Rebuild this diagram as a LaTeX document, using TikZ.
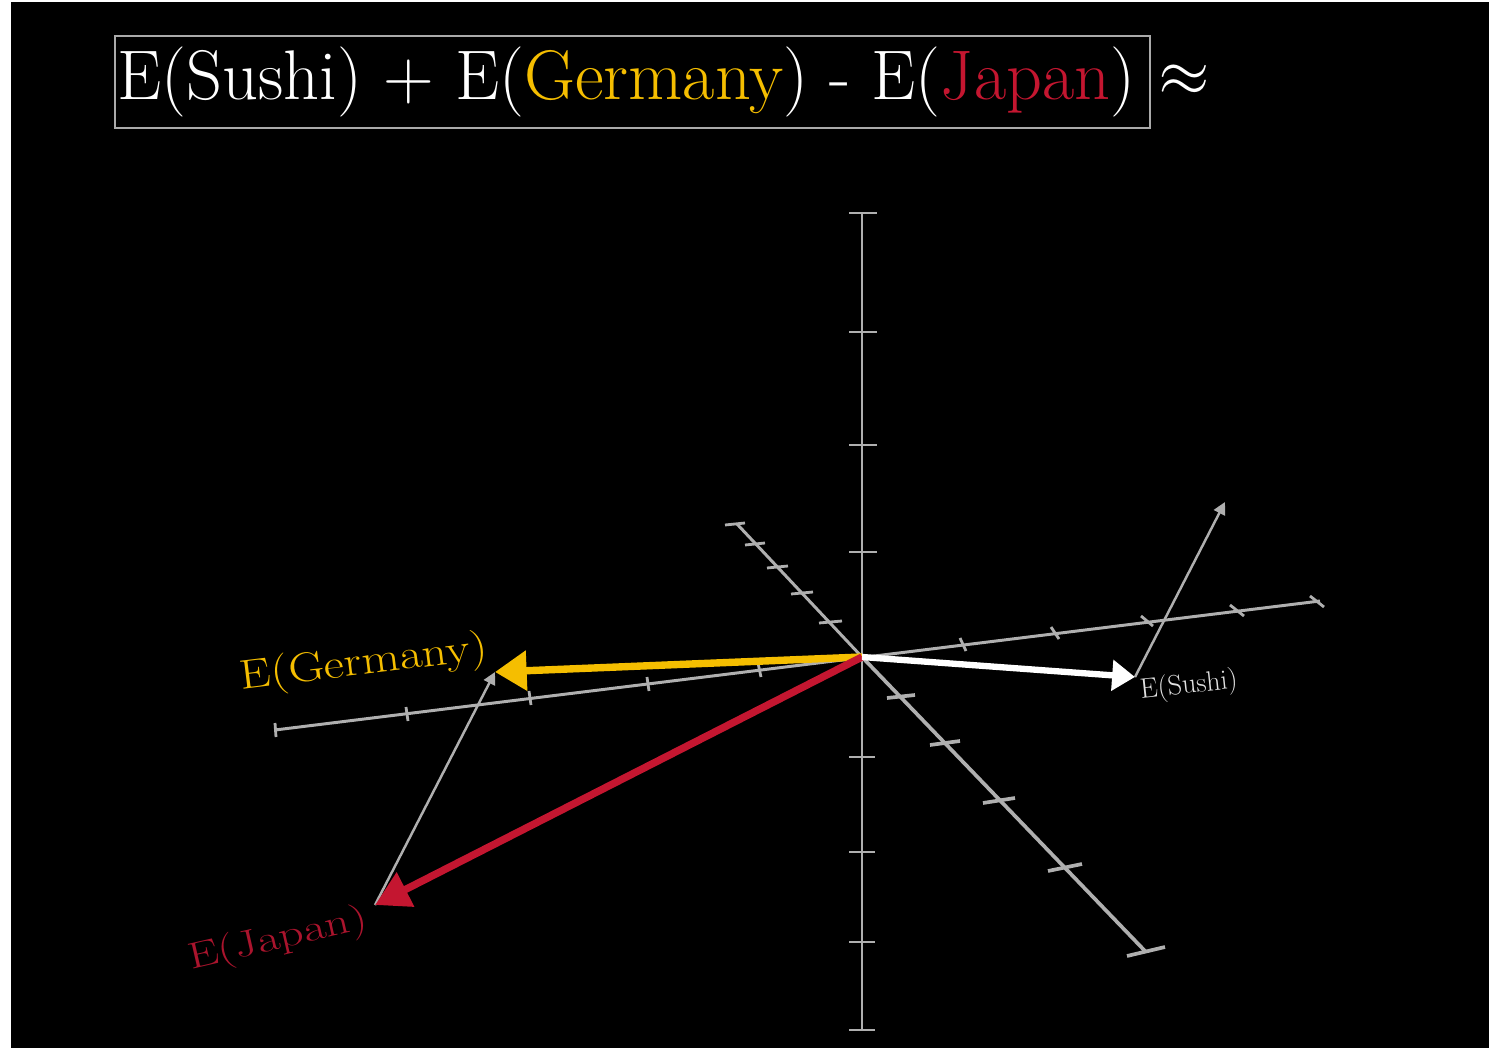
\documentclass[tikz,border=0pt]{standalone}
\usepackage{unicode-math}
\usetikzlibrary{arrows.meta,calc}
\definecolor{gold}{RGB}{245,190,0}
\definecolor{jred}{RGB}{196,22,48}
\definecolor{jlab}{RGB}{170,20,45}
\definecolor{axisgray}{RGB}{175,175,175}
\definecolor{boxgray}{RGB}{170,170,170}
\definecolor{sushilab}{RGB}{225,225,225}
\begin{document}
\begin{tikzpicture}[x=0.02cm,y=-0.02cm,
  axisline/.style={draw=axisgray,line width=1.7pt},
  tick/.style={draw=axisgray,line width=1.6pt},
  neartick/.style={draw=axisgray,line width=2.1pt},
  helper/.style={draw=axisgray,line width=1.4pt,-{Triangle[length=7pt,width=7pt]}},
  vec/.style={line width=4.2pt},
  lbl/.style={inner sep=0pt}]
\fill[white] (0,0) rectangle (1489,1051);
\fill[black] (11,2) rectangle (1489,1048);
\useasboundingbox (0,0) rectangle (1489,1051);

% title
\node[draw=boxgray,line width=1.5pt,minimum width=20.7cm,minimum height=1.84cm,inner sep=0pt,text=white,
  font=\fontsize{40}{42}\selectfont] (title) at (632.5,82)
  {E(Sushi) + E({\color{gold}Germany}) - E({\color{jred}Japan})\hspace*{0.24cm}};
\node[text=white,inner sep=0pt,font=\fontsize{38}{40}\selectfont] (approx) at (1184,80) {$\approx$};

% coordinates
\coordinate (O) at (862,657);
\coordinate (Vt) at (862,213);
\coordinate (Vb) at (862,1030);
\coordinate (Du) at (737,524);
\coordinate (Dl) at (1145,951);
\coordinate (Hl) at (275,730);
\coordinate (Hr) at (1320,601);
\coordinate (G) at (495,672);
\coordinate (J) at (375,905);
\coordinate (S) at (1135,677);
\coordinate (S2) at (1225,502);

% axes
\draw[axisline] (Vt) -- (Vb);
\draw[axisline] (Du) -- (O);
\draw[axisline,line width=2.1pt] (O) -- (Dl);
\draw[axisline] (Hl) -- (Hr);

% vertical ticks
\foreach \y in {213,332,445,552} \draw[tick] (849,\y) -- (877,\y);
\foreach \y in {757,852,942,1030} \draw[tick] (849,\y) -- (875,\y);

% depth ticks
\draw[tick] (725,525) -- (745,523);
\draw[tick] (745,545) -- (765,543);
\draw[tick] (767,568) -- (788,566);
\draw[tick] (791,594) -- (813,592);
\draw[tick] (819,623) -- (842,621);
\draw[neartick] (887,698) -- (915,695);
\draw[neartick] (930,745) -- (960,741);
\draw[neartick] (983,803) -- (1015,798);
\draw[neartick] (1048,871) -- (1082,864);
\draw[neartick] (1127,956) -- (1165,947);

% horizontal ticks
\draw[tick] (275,723) -- (276,737);
\draw[tick] (406,707) -- (408,721);
\draw[tick] (529,691) -- (531,705);
\draw[tick] (647,677) -- (649,691);
\draw[tick] (758,663) -- (761,677);
\draw[tick] (960,638) -- (966,651);
\draw[tick] (1051,627) -- (1059,639);
\draw[tick] (1141,616) -- (1153,626);
\draw[tick] (1230,605) -- (1244,616);
\draw[tick] (1310,596) -- (1324,607);

% helper arrows
\draw[helper] (J) -- (G);
\draw[helper] (S) -- (S2);

% vectors
\draw[vec,draw=gold,-{Triangle[length=18pt,width=22pt]}] (O) -- (G);
\draw[vec,draw=jred,-{Triangle[length=19.5pt,width=21pt]}] (O) -- (J);
\draw[vec,draw=white,line width=3.6pt,-{Triangle[length=13pt,width=17pt]}] (O) -- (S);

% labels
\node[lbl,rotate=7,text=gold,font=\fontsize{23.5}{25}\selectfont] (lg) at (364,664) {\scalebox{1.2}[1]{E(Germany)}};
\node[lbl,rotate=13,text=jlab,font=\fontsize{21}{23}\selectfont] (lj) at (278,940) {\scalebox{1.32}[1]{E(Japan)}};
\node[lbl,rotate=6,text=sushilab,font=\fontsize{16}{18}\selectfont] (ls) at (1189,686) {E(Sushi)};
\end{tikzpicture}
\end{document}
